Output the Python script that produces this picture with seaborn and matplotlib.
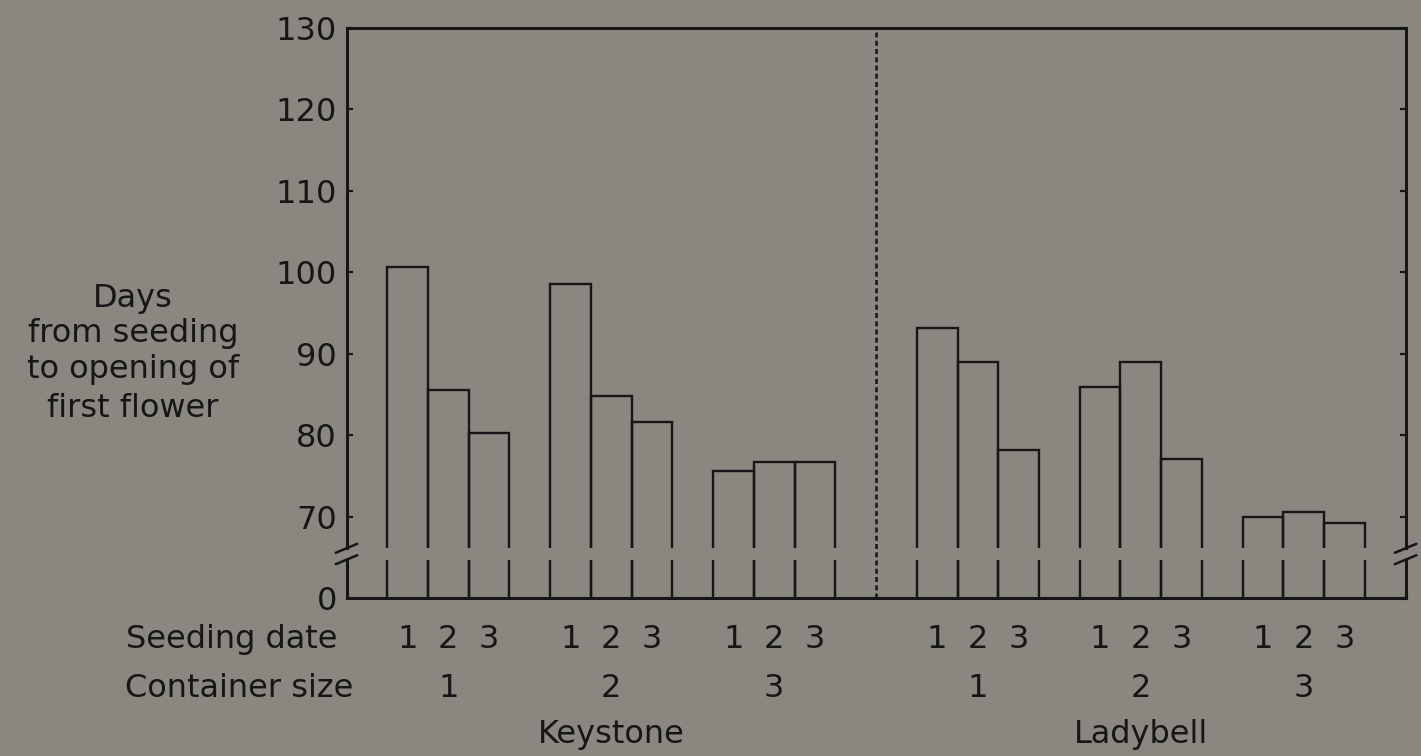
import matplotlib
matplotlib.use("Agg")
import matplotlib.pyplot as plt
import matplotlib.transforms as mtransforms
import pandas as pd
import seaborn as sns

# ---- data -------------------------------------------------------------
cultivars = ["Keystone", "Ladybell"]
container_sizes = ["1", "2", "3"]
seeding_dates = ["1", "2", "3"]
# days from seeding to first flower, ordered container 1..3, seeding date 1..3
keystone_days = [100.6, 85.5, 80.3, 98.5, 84.8, 81.6, 75.6, 76.7, 76.7]
ladybell_days = [93.1, 89.0, 78.2, 85.9, 89.0, 77.0, 69.9, 70.6, 69.2]
y_ticks = [70, 80, 90, 100, 110, 120, 130]
y_label_lines = ["Days", "from seeding", "to opening of", "first flower"]

# ---- layout -----------------------------------------------------------
BG = "#8a8680"
INK = "#161616"
W, H = 1421, 756
FIRST_SLOT = 1        # empty slot before the first bar
GROUP_STEP = 4        # three bars plus one blank slot per container group
CULTIVAR_STEP = 13    # offset between the two cultivar blocks
X_MAX = 26
AXIS_ZERO = 60        # the broken scale puts "0" one step below 70
BREAK_LO, BREAK_HI = 64.7, 66.1
FONT_SIZE = 23

rows = []
for ci, (name, vals) in enumerate(zip(cultivars, [keystone_days, ladybell_days])):
    for k, size in enumerate(container_sizes):
        for d, date in enumerate(seeding_dates):
            rows.append(dict(
                cultivar=name, container=size, date=date,
                days=vals[k * len(seeding_dates) + d],
                pos=FIRST_SLOT + ci * CULTIVAR_STEP + k * GROUP_STEP + d + 0.5,
            ))
df = pd.DataFrame(rows)

sns.set_theme(style="white")
plt.rcParams["font.family"] = ["DejaVu Sans"]
plt.rcParams["text.color"] = INK

fig = plt.figure(figsize=(W / 100, H / 100), dpi=100, facecolor=BG)
left_px, right_px, top_px, bottom_px = 346.5, 1405.6, 27.7, 598
ax = fig.add_axes([left_px / W, 1 - bottom_px / H,
                   (right_px - left_px) / W, (bottom_px - top_px) / H])
ax.set_facecolor(BG)

sns.barplot(data=df, x="pos", y="days", native_scale=True, width=1,
            fill=False, color=INK, linewidth=1.7, errorbar=None, ax=ax,
            zorder=1)

ax.set_xlim(0, X_MAX)
ax.set_ylim(AXIS_ZERO, y_ticks[-1])

# axis break: cut the bars between the two slash marks
ax.axhspan(BREAK_LO, BREAK_HI, color=BG, lw=0, zorder=2)

# frame: top and bottom spines solid, sides interrupted at the break
for side in ("left", "right"):
    ax.spines[side].set_visible(False)
for side in ("top", "bottom"):
    ax.spines[side].set_linewidth(2.2)
    ax.spines[side].set_color(INK)

side_tr = mtransforms.blended_transform_factory(ax.transAxes, ax.transData)
for xa in (0, 1):
    ax.plot([xa, xa], [AXIS_ZERO, BREAK_LO], transform=side_tr, color=INK,
            lw=2.2, clip_on=False, zorder=4, solid_capstyle="projecting")
    ax.plot([xa, xa], [BREAK_HI, y_ticks[-1]], transform=side_tr, color=INK,
            lw=2.2, clip_on=False, zorder=4, solid_capstyle="projecting")
    for yb in (BREAK_LO, BREAK_HI):
        ax.plot([xa - 0.0102, xa + 0.0102], [yb - 0.55, yb + 0.55],
                transform=side_tr, color=INK, lw=1.8, clip_on=False, zorder=4)

# dashed divider between the cultivars
keystone_end = FIRST_SLOT + (len(container_sizes) - 1) * GROUP_STEP + len(seeding_dates)
ladybell_start = FIRST_SLOT + CULTIVAR_STEP
ax.axvline((keystone_end + ladybell_start) / 2, color=INK, lw=1.8,
           linestyle=(0, (2, 1.3)), zorder=3)

# y ticks on both sides, labels on the left
ax.set_yticks([AXIS_ZERO] + y_ticks)
ax.set_yticklabels(["0"] + [str(t) for t in y_ticks])
ax.tick_params(axis="y", direction="in", length=4, width=1.6, color=INK,
               left=True, right=True, labelleft=True, labelright=False,
               pad=7, labelsize=FONT_SIZE, labelcolor=INK)
ax.tick_params(axis="x", bottom=False, labelbottom=False)
ax.set_xlabel("")
ax.set_ylabel("")

# category labels under the axis
under = mtransforms.blended_transform_factory(ax.transData, fig.transFigure)


def fig_y(px):
    return 1 - px / H


for _, r in df.iterrows():
    ax.text(r.pos, fig_y(648), r.date, transform=under, ha="center",
            va="baseline", fontsize=FONT_SIZE)
for (name, size), g in df.groupby(["cultivar", "container"]):
    ax.text(g.pos.mean(), fig_y(697), size, transform=under, ha="center",
            va="baseline", fontsize=FONT_SIZE)
for name, g in df.groupby("cultivar"):
    ax.text(g.pos.mean(), fig_y(743), name, transform=under, ha="center",
            va="baseline", fontsize=FONT_SIZE)

fig.text(231.5 / W, fig_y(648), "Seeding date", ha="center", va="baseline",
         fontsize=FONT_SIZE)
fig.text(239 / W, fig_y(697), "Container size", ha="center", va="baseline",
         fontsize=FONT_SIZE)

for line, base in zip(y_label_lines, [307, 342, 378, 417]):
    fig.text(133 / W, fig_y(base), line, ha="center", va="baseline",
             fontsize=FONT_SIZE)

fig.savefig("out.png", dpi=100, facecolor=BG)
